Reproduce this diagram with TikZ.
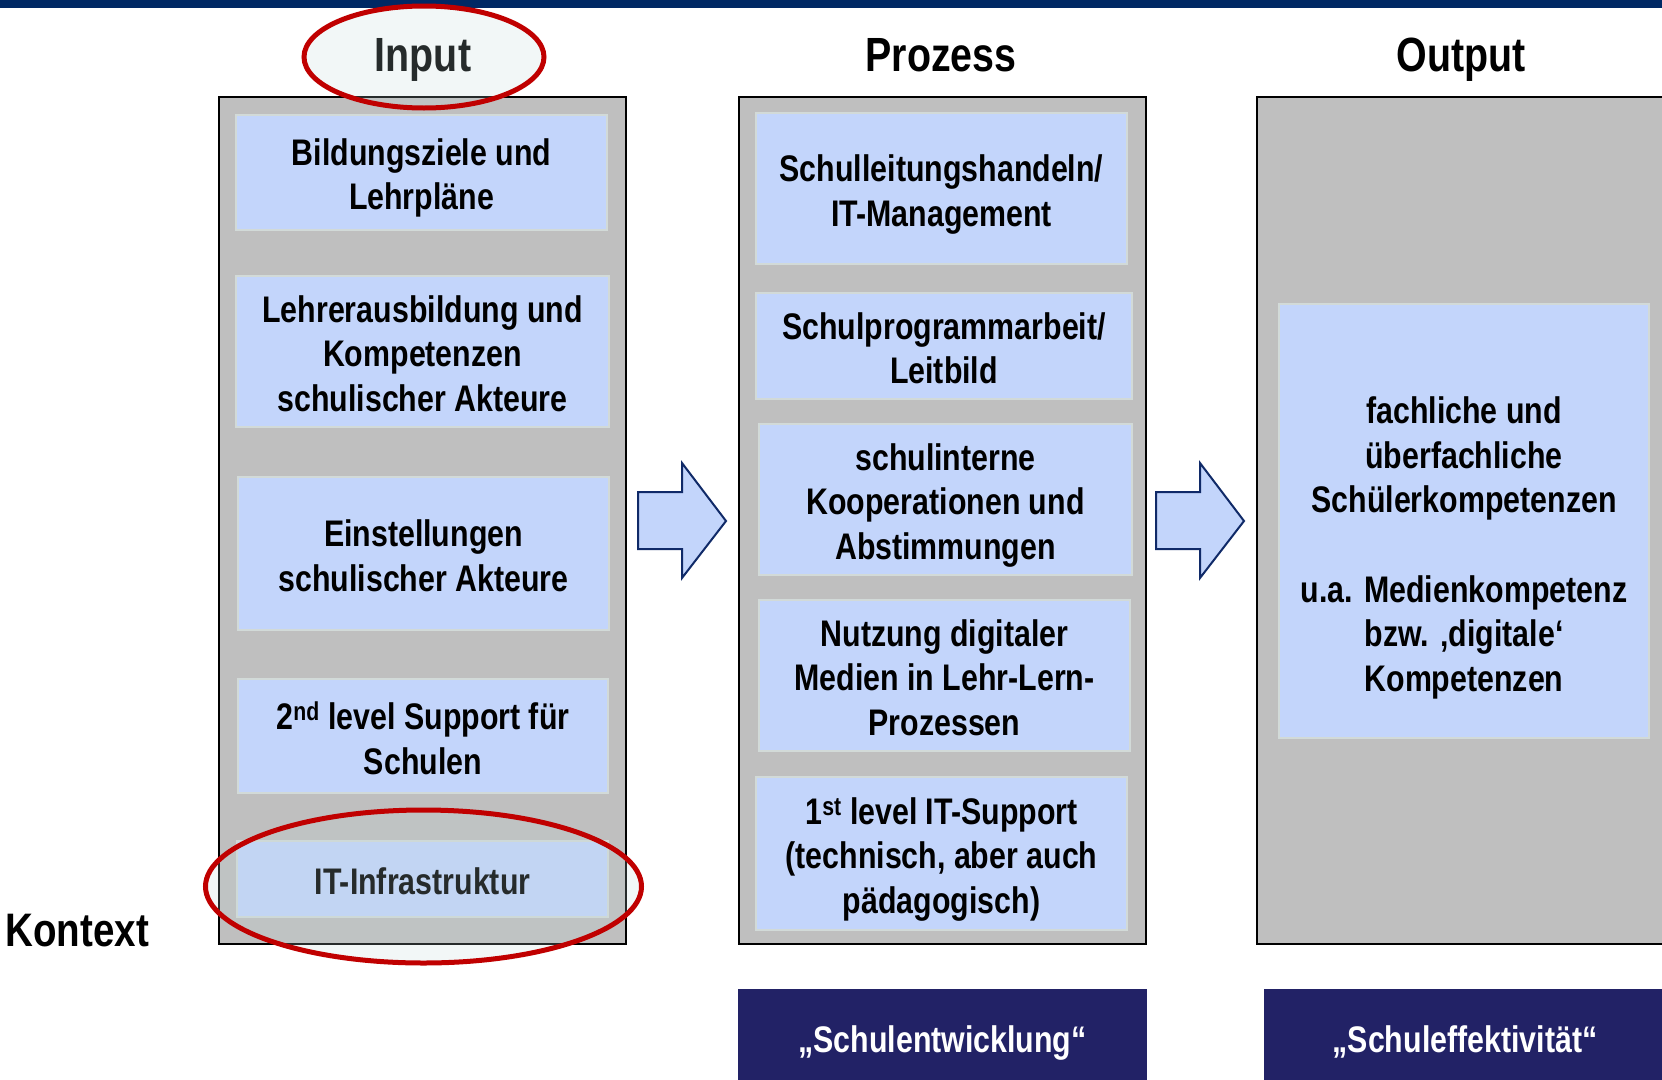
\documentclass[tikz,border=0pt]{standalone}
\usepackage{fontspec}
\setmainfont{Liberation Sans}[FakeStretch=0.82]
\usetikzlibrary{shapes.geometric}

\definecolor{topbar}{RGB}{0,40,100}
\definecolor{colgray}{RGB}{191,191,191}
\definecolor{itemblue}{RGB}{195,213,251}
\definecolor{itemedge}{RGB}{210,218,216}
\definecolor{arrowedge}{RGB}{16,42,104}
\definecolor{footblue}{RGB}{34,34,102}
\definecolor{ringred}{RGB}{192,0,0}
\definecolor{ringfill}{RGB}{191,215,215}

\begin{document}
\begin{tikzpicture}[x=1pt,y=-1pt,
  column/.style={draw=black,line width=2pt,fill=colgray,inner sep=0pt,
    minimum width=407pt,minimum height=847pt},
  item/.style={draw=itemedge,line width=2pt,fill=itemblue,inner sep=0pt},
  itemtext/.style={align=center,inner sep=0pt,text depth=0pt,
    font=\fontsize{37}{44.5}\selectfont\bfseries},
  header/.style={text depth=0pt,font=\fontsize{48}{56}\selectfont\bfseries},
  foottext/.style={text=white,text depth=0pt,font=\fontsize{37}{44}\selectfont\bfseries},
  blockarrow/.style={fill=itemblue,draw=arrowedge,line width=2pt,line join=miter},
  ring/.style={ellipse,draw=ringred,line width=5pt,fill=ringfill,fill opacity=0.2,
    draw opacity=1,inner sep=0pt}
]
\useasboundingbox (0,0) rectangle (1662,1079);
\clip (0,0) rectangle (1662,1079);

% top band
\fill[topbar] (0,0) rectangle (1662,8);

% column headings
\node[header] (hin)  at (423,55)  {Input};
\node[header] (hpro) at (941,55)  {Prozess};
\node[header] (hout) at (1461,55) {Output};

% the three columns
\node[column] (cin)  at (422.5,520.5) {};
\node[column] (cpro) at (942.5,520.5) {};
\node[column,minimum width=440pt] (cout) at (1477,520.5) {};

% input factors
\node[item,minimum width=371pt,minimum height=115pt] (in1) at (421.5,172) {};
\node[item,minimum width=373pt,minimum height=151pt] (in2) at (422.5,351.5) {};
\node[item,minimum width=371pt,minimum height=153pt] (in3) at (423.5,553.5) {};
\node[item,minimum width=370pt,minimum height=114pt] (in4) at (423,736) {};
\node[item,minimum width=371pt,minimum height=76pt]  (in5) at (422.5,879) {};
\node[itemtext] (tin1) at ([yshift=-2pt]in1.center) {Bildungsziele und\\Lehrpläne};
\node[itemtext] (tin2) at ([yshift=-2pt]in2.center) {Lehrerausbildung und\\Kompetenzen\\schulischer Akteure};
\node[itemtext] (tin3) at ([yshift=-2pt]in3.center) {Einstellungen\\schulischer Akteure};
\node[itemtext] (tin4) at ([yshift=-2pt]in4.center) {2\textsuperscript{nd} level Support für\\Schulen};
\node[itemtext] (tin5) at ([yshift=-2pt]in5.center) {IT-Infrastruktur};

% process factors
\node[item,minimum width=371pt,minimum height=151pt] (pr1) at (941.5,188.5) {};
\node[item,minimum width=376pt,minimum height=106pt] (pr2) at (944,346) {};
\node[item,minimum width=373pt,minimum height=151pt] (pr3) at (945.5,499.5) {};
\node[item,minimum width=371pt,minimum height=151pt] (pr4) at (944.5,675.5) {};
\node[item,minimum width=371pt,minimum height=153pt] (pr5) at (941.5,853.5) {};
\node[itemtext] (tpr1) at ([yshift=-2pt]pr1.center) {Schulleitungshandeln/\\IT-Management};
\node[itemtext] (tpr2) at ([yshift=-2pt]pr2.center) {Schulprogrammarbeit/\\Leitbild};
\node[itemtext] (tpr3) at ([yshift=-2pt]pr3.center) {schulinterne\\Kooperationen und\\Abstimmungen};
\node[itemtext] (tpr4) at ([yshift=-2pt]pr4.center) {Nutzung digitaler\\Medien in Lehr-Lern-\\Prozessen};
\node[itemtext] (tpr5) at ([yshift=-2pt]pr5.center) {1\textsuperscript{st} level IT-Support\\(technisch, aber auch\\pädagogisch)};

% output
\node[item,minimum width=370pt,minimum height=434pt] (out1) at (1464,521) {};
\node[itemtext] (tout1) at (1464,544)
  {fachliche und\\überfachliche\\Schülerkompetenzen\\[45pt]u.a. Medienkompetenz\\bzw. ‚digitale‘\\Kompetenzen};

% block arrows between the columns
\coordinate (a1) at (638,520.5);
\coordinate (a2) at (1156,520.5);
\foreach \a in {a1,a2}{
  \draw[blockarrow] (\a) ++(0,-28.5) -- ++(44,0) -- ++(0,-29) -- ++(44,58)
    -- ++(-44,57) -- ++(0,-29) -- ++(-44,0) -- cycle;
}

% context label
\node[anchor=west,font=\fontsize{47}{54}\selectfont\bfseries] (ctx) at (2,931) {Kontext};

% footer labels
\fill[footblue] (738,989) rectangle (1147,1090);
\fill[footblue] (1264,989) rectangle (1680,1090);
\node[foottext] (f1) at (942.5,1039) {„Schulentwicklung“};
\node[foottext] (f2) at (1465,1039) {„Schuleffektivität“};

% highlight rings
\node[ring,minimum width=240pt,minimum height=102pt] (r1) at (424,57) {};
\node[ring,minimum width=436pt,minimum height=153pt] (r2) at (423.5,886.5) {};
\end{tikzpicture}
\end{document}
